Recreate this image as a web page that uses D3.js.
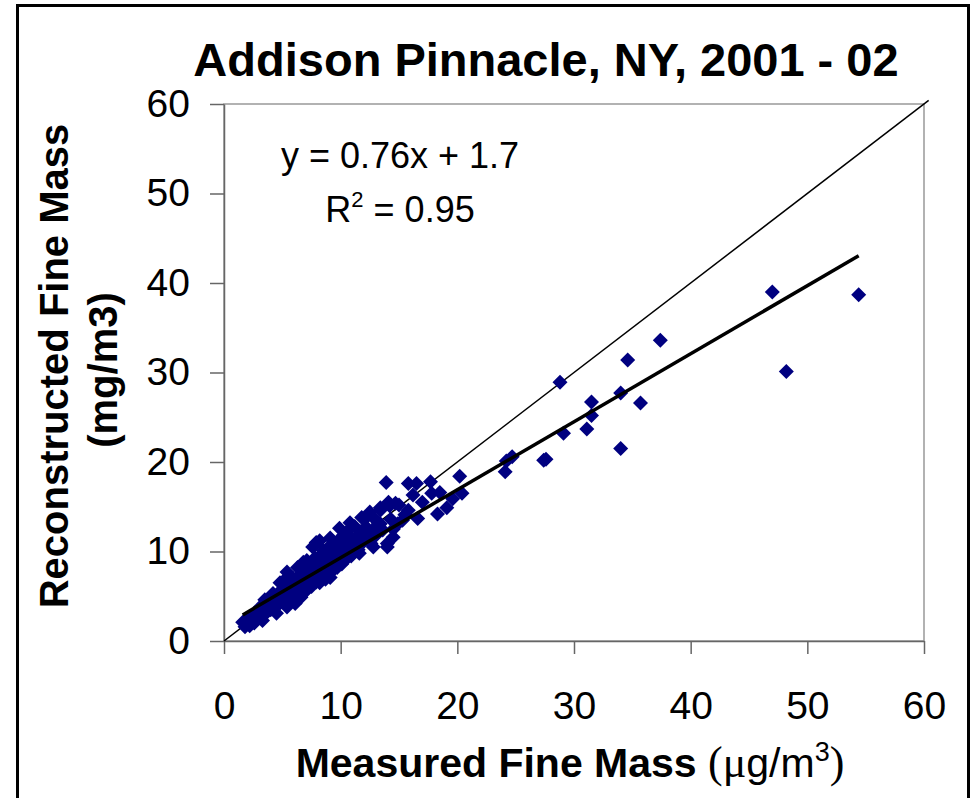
<!DOCTYPE html>
<html>
<head>
<meta charset="utf-8">
<script src="https://cdn.jsdelivr.net/npm/d3@7"></script>
<style>
  body { margin: 0; background: #fff; }
  svg { display: block; font-family: "Liberation Sans", Arial, sans-serif; }
</style>
</head>
<body>
<svg id="chart" width="971" height="798"></svg>
<script>
// values
const title = "Addison Pinnacle, NY, 2001 - 02";
const xTicks = [0, 10, 20, 30, 40, 50, 60];
const yTicks = [0, 10, 20, 30, 40, 50, 60];
const fitSlope = 0.76;
const fitIntercept = 1.7;
const fitRange = [1.6, 54.4];
const equationText = "y = 0.76x + 1.7";
const r2Text = "0.95";

// [measured, reconstructed] pairs, the dense low end
const clusterPoints = [
  [1.6, 2.1], [1.8, 1.6], [2.0, 2.4], [2.2, 1.7], [2.4, 2.6], [2.5, 2.9], [2.6, 2.0],
  [2.8, 2.5], [3.0, 3.3], [3.1, 3.8], [3.2, 2.7], [3.3, 2.3],
  [3.4, 3.6], [3.5, 4.6], [3.6, 3.1], [3.8, 4.0], [3.9, 4.8], [4.0, 3.5], [4.1, 4.3],
  [4.2, 5.3], [4.3, 3.8], [4.5, 3.1], [4.5, 4.6], [4.6, 5.0], [4.7, 4.1], [4.8, 6.5],
  [4.9, 5.4], [5.0, 4.4], [5.0, 5.8],
  [5.2, 4.9], [5.3, 6.0], [5.4, 7.1], [5.4, 7.7], [5.4, 3.8], [5.5, 5.3], [5.6, 6.4],
  [5.7, 4.6], [5.8, 5.8], [5.9, 7.0], [6.0, 6.2], [6.1, 4.2], [6.1, 5.1], [6.2, 6.8],
  [6.3, 8.2], [6.3, 5.6], [6.4, 7.3], [6.5, 8.2], [6.5, 6.0], [6.6, 4.9], [6.7, 6.6],
  [6.8, 8.8], [6.8, 7.6], [6.9, 5.5], [7.0, 7.0], [7.0, 6.3],
  [7.1, 9.0], [7.1, 5.7], [7.2, 8.0], [7.3, 6.8], [7.4, 7.5], [7.5, 6.1], [7.6, 10.5],
  [7.6, 8.5], [7.7, 7.2], [7.8, 9.3], [7.9, 11.0], [7.9, 6.6], [8.0, 8.1], [8.1, 7.5],
  [8.2, 11.2], [8.2, 6.5], [8.3, 9.6], [8.4, 8.6], [8.5, 10.1], [8.5, 7.3], [8.6, 9.0],
  [8.7, 6.9], [8.8, 8.3], [8.9, 10.4], [9.0, 7.8], [9.1, 11.5], [9.1, 7.1], [9.2, 9.3],
  [9.3, 8.6], [9.4, 10.8],
  [9.5, 8.1], [9.6, 9.9], [9.7, 8.2], [9.8, 11.2], [9.9, 12.6], [9.9, 9.0], [10.0, 10.3],
  [10.1, 8.6], [10.2, 9.6], [10.2, 11.8], [10.4, 10.9], [10.5, 9.2], [10.6, 12.3],
  [10.7, 10.0], [10.8, 13.2], [10.9, 9.5], [11.0, 11.4], [11.1, 10.4], [11.2, 12.8],
  [11.4, 11.6], [11.5, 10.2], [11.6, 9.8], [11.7, 12.2], [11.8, 13.8], [11.9, 11.0],
  [12.0, 12.5], [12.2, 13.8], [12.2, 12.7], [12.3, 11.4], [12.5, 14.4], [12.5, 12.0],
  [12.6, 10.9], [12.8, 13.8], [12.8, 10.5], [12.9, 12.6], [13.0, 11.8], [13.2, 13.2],
  [13.4, 14.9], [13.4, 14.6], [13.4, 13.1], [13.6, 12.4], [13.9, 17.7], [14.0, 10.9],
  [14.0, 10.5], [14.1, 15.5], [14.2, 15.1], [14.3, 13.6], [14.5, 11.6], [14.5, 12.5],
  [14.7, 15.4], [14.9, 13.1], [15.0, 15.2],
  [15.3, 13.5], [15.5, 14.1], [15.8, 14.6], [15.8, 17.6], [16.2, 16.3], [16.5, 17.6],
  [16.6, 13.7], [17.0, 15.5], [17.7, 17.8], [17.8, 16.5], [18.3, 14.2], [18.5, 16.6],
  [19.1, 14.9], [19.6, 15.9], [20.2, 18.4], [20.4, 16.5],
];

// the sparse high end
const outlierPoints = [
  [24.1, 18.9], [24.2, 20.1], [24.7, 20.6], [27.4, 20.2], [27.6, 20.3], [28.8, 28.9],
  [29.1, 23.2], [31.1, 23.7], [31.5, 25.2], [31.5, 26.7], [34.0, 21.5], [34.0, 27.7],
  [34.6, 31.4], [35.7, 26.6], [37.4, 33.6], [47.0, 39.0], [48.2, 30.1], [54.4, 38.7],
];

const svg = d3.select("#chart");

// outer chart border
svg
  .append("rect")
  .attr("x", 17.5)
  .attr("y", 5.5)
  .attr("width", 951)
  .attr("height", 800)
  .attr("fill", "none")
  .attr("stroke", "black")
  .attr("stroke-width", 3);

const plot = { left: 224, right: 924, top: 104, bottom: 641 };

const xScale = d3.scaleLinear().domain([0, 60]).range([plot.left, plot.right]);
const yScale = d3.scaleLinear().domain([0, 60]).range([plot.bottom, plot.top]);

// plot area border (grey, Excel style)
svg
  .append("rect")
  .attr("x", plot.left)
  .attr("y", plot.top)
  .attr("width", plot.right - plot.left)
  .attr("height", plot.bottom - plot.top)
  .attr("fill", "none")
  .attr("stroke", "#999")
  .attr("stroke-width", 1.5);

// axes
const xAxis = svg
  .append("g")
  .attr("transform", `translate(0,${plot.bottom})`)
  .call(d3.axisBottom(xScale).tickValues(xTicks).tickSizeInner(13).tickSizeOuter(0).tickPadding(65));

const yAxis = svg
  .append("g")
  .attr("transform", `translate(${plot.left},0)`)
  .call(d3.axisLeft(yScale).tickValues(yTicks).tickSizeInner(14).tickSizeOuter(0).tickPadding(20));

[xAxis, yAxis].forEach((axis) => {
  axis.select(".domain").attr("stroke", "#666").attr("stroke-width", 1.5);
  axis.selectAll(".tick line").attr("stroke", "#666").attr("stroke-width", 1.5);
  axis
    .selectAll(".tick text")
    .attr("fill", "black")
    .style("font-family", "'Liberation Sans', Arial, sans-serif")
    .style("font-size", "39px");
});
xAxis.selectAll(".tick text").attr("dy", "0");

// 1:1 reference line
const line = d3
  .line()
  .x((d) => xScale(d[0]))
  .y((d) => yScale(d[1]));

svg
  .append("path")
  .datum([[0, 0], [60.4, 60.4]])
  .attr("d", line)
  .attr("fill", "none")
  .attr("stroke", "black")
  .attr("stroke-width", 1.5);

// data points as diamonds
const diamond = "M0,-7.5L7.5,0L0,7.5L-7.5,0Z";
svg
  .append("g")
  .selectAll(".point")
  .data(clusterPoints.concat(outlierPoints))
  .enter()
  .append("path")
  .attr("class", "point")
  .attr("d", diamond)
  .attr("transform", (d) => `translate(${xScale(d[0])},${yScale(d[1])})`)
  .attr("fill", "#000080");

// linear fit
svg
  .append("path")
  .datum(fitRange.map((x) => [x, fitSlope * x + fitIntercept]))
  .attr("d", line)
  .attr("fill", "none")
  .attr("stroke", "black")
  .attr("stroke-width", 3.5);

// title
svg
  .append("text")
  .attr("x", 546)
  .attr("y", 76)
  .attr("text-anchor", "middle")
  .style("font-size", "47px")
  .style("font-weight", "bold")
  .text(title);

// equation
svg
  .append("text")
  .attr("x", 400)
  .attr("y", 168)
  .attr("text-anchor", "middle")
  .style("font-size", "36px")
  .text(equationText);

const r2 = svg
  .append("text")
  .attr("x", 400)
  .attr("y", 222)
  .attr("text-anchor", "middle")
  .style("font-size", "36px");
r2.append("tspan").text("R");
r2.append("tspan").attr("dy", -15).style("font-size", "22px").text("2");
r2.append("tspan").attr("dy", 15).text(" = " + r2Text);

// x axis title: bold label, then units with a symbol-font mu
const xTitle = svg
  .append("text")
  .attr("x", 570)
  .attr("y", 777)
  .attr("text-anchor", "middle");
xTitle
  .append("tspan")
  .style("font-size", "41px")
  .style("font-weight", "bold")
  .text("Measured Fine Mass ");
xTitle
  .append("tspan")
  .style("font-family", "'Liberation Serif', 'Times New Roman', serif")
  .style("font-size", "44px")
  .text("(\u03bc");
xTitle
  .append("tspan")
  .style("font-size", "41px")
  .text("g/m");
xTitle
  .append("tspan")
  .attr("dy", -16)
  .style("font-size", "27px")
  .text("3");
xTitle
  .append("tspan")
  .attr("dy", 16)
  .style("font-family", "'Liberation Serif', 'Times New Roman', serif")
  .style("font-size", "44px")
  .text(")");

// y axis title, two lines
svg
  .append("text")
  .attr("transform", "translate(68,366) rotate(-90)")
  .attr("text-anchor", "middle")
  .style("font-size", "40px")
  .style("font-weight", "bold")
  .text("Reconstructed Fine Mass");

svg
  .append("text")
  .attr("transform", "translate(117,370) rotate(-90)")
  .attr("text-anchor", "middle")
  .style("font-size", "40px")
  .style("font-weight", "bold")
  .text("(mg/m3)");
</script>
</body>
</html>
